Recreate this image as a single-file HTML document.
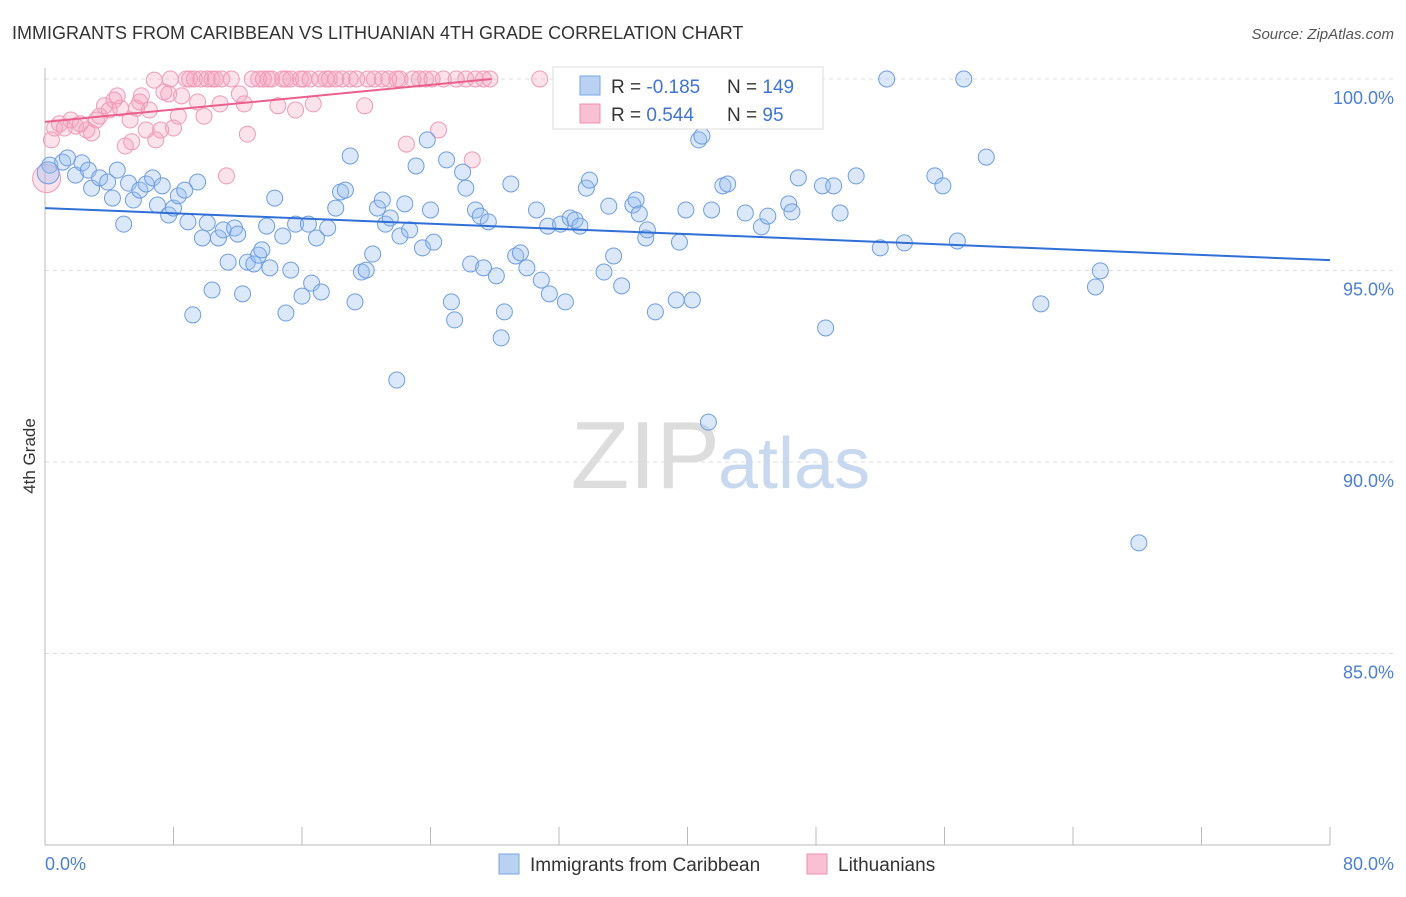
<!DOCTYPE html>
<html><head><meta charset="utf-8"><style>
body{margin:0;background:#fff;font-family:"Liberation Sans",sans-serif}
svg text{font-family:"Liberation Sans",sans-serif}
</style></head><body>
<svg width="1406" height="892" xmlns="http://www.w3.org/2000/svg">
<text x="12" y="39" font-size="18" fill="#333">IMMIGRANTS FROM CARIBBEAN VS LITHUANIAN 4TH GRADE CORRELATION CHART</text>
<text x="1394" y="39" font-size="15" fill="#555" font-style="italic" text-anchor="end">Source: ZipAtlas.com</text>
<g id="grid"></g>
<text x="720" y="488" font-size="96" fill="#ddd" text-anchor="end" font-family="Liberation Serif">ZIP</text>
<text x="718" y="488" font-size="72" fill="#c8d8ee">atlas</text>
<g id="pts"></g>
<g id="lines"></g>
<text x="35" y="456" font-size="17" fill="#333" text-anchor="middle" transform="rotate(-90 35 456)">4th Grade</text>
<text x="45" y="870" font-size="18" fill="#4a7fd6">0.0%</text>
<text x="1394" y="870" font-size="18" fill="#4a7fd6" text-anchor="end">80.0%</text>
<g>
<rect x="553" y="67" width="270" height="62" fill="#fff" stroke="#ddd"/>
<rect x="580" y="76" width="20" height="19" fill="#b9d2f3" stroke="#7aa6e6"/>
<rect x="580" y="104" width="20" height="19" fill="#f8c0d2" stroke="#ee90b0"/>
<text x="611" y="93" font-size="19" fill="#333">R = <tspan fill="#3d74d6">-0.185</tspan></text>
<text x="727" y="93" font-size="19" fill="#333">N = <tspan fill="#3d74d6">149</tspan></text>
<text x="611" y="121" font-size="19" fill="#333">R = <tspan fill="#3d74d6"> 0.544</tspan></text>
<text x="727" y="121" font-size="19" fill="#333">N = <tspan fill="#3d74d6">  95</tspan></text>
</g>
<g>
<rect x="499" y="854" width="20" height="20" fill="#b9d2f3" stroke="#7aa6e6"/>
<text x="530" y="871" font-size="19" fill="#333">Immigrants from Caribbean</text>
<rect x="807" y="854" width="20" height="20" fill="#f8c0d2" stroke="#ee90b0"/>
<text x="838" y="871" font-size="19" fill="#333">Lithuanians</text>
</g>
</svg>
<script>
const yTicks=[100,95,90,85];
const yTickLabels=["100.0%","95.0%","90.0%","85.0%"];
const xTicks=[0,8,16,24,32,40,48,56,64,72,80];
const blueX=[0.3,1.1,1.4,1.9,2.3,2.7,2.9,3.4,3.9,4.2,4.5,4.9,5.2,5.5,5.9,6.3,6.7,7.0,7.3,7.7,8.0,8.3,8.7,8.9,9.2,9.5,9.8,10.1,10.4,10.8,11.1,11.4,11.8,12.0,12.3,12.6,13.0,13.3,13.5,13.8,14.0,14.3,14.8,15.0,15.3,15.6,16.0,16.4,16.6,16.9,17.2,17.6,18.1,18.4,18.7,19.0,19.3,19.7,20.0,20.4,20.7,21.0,21.2,21.5,21.9,22.1,22.4,22.7,23.1,23.5,23.8,24.2,24.0,25.0,25.3,25.5,26.0,26.2,26.5,26.8,27.1,27.3,27.6,28.1,28.6,28.4,29.0,29.3,29.6,30.0,30.6,30.9,31.3,31.4,32.1,32.4,32.7,33.0,33.3,33.7,33.9,34.8,35.1,35.4,35.9,36.6,36.8,37.0,37.4,37.5,38.0,39.3,39.5,39.9,40.3,40.7,40.9,41.3,41.5,42.2,42.5,43.6,44.6,45.0,46.3,46.5,46.9,48.4,48.6,49.1,49.5,50.5,52.0,52.4,53.5,55.4,55.9,56.8,57.2,58.6,62.0,65.4,65.7,68.1,0.2];
const blueY=[97.75,97.83,97.94,97.49,97.81,97.62,97.15,97.42,97.31,96.89,97.62,96.21,97.28,96.84,97.10,97.26,97.42,96.71,97.21,96.45,96.63,96.95,97.10,96.27,93.84,97.31,95.85,96.24,94.49,95.85,96.06,95.22,96.11,95.95,94.39,95.22,95.17,95.40,95.54,96.16,95.07,96.89,95.90,93.89,95.01,96.21,94.33,96.21,94.67,95.85,94.44,96.11,96.63,97.05,97.10,97.99,94.18,94.96,95.01,95.43,96.63,96.84,96.21,96.37,92.14,95.90,96.74,96.06,97.73,95.59,98.41,95.74,96.58,97.89,94.18,93.71,97.57,97.15,95.17,96.58,96.42,95.07,96.27,94.86,93.92,93.24,97.26,95.38,95.46,95.07,96.58,94.75,96.16,94.39,96.21,94.18,96.37,96.32,96.16,97.15,97.36,94.96,96.68,95.38,94.60,96.71,96.84,96.48,95.85,96.06,93.92,94.23,95.74,96.58,94.23,98.41,98.51,91.04,96.58,97.21,97.26,96.50,96.14,96.42,96.74,96.53,97.42,97.21,93.50,97.21,96.50,97.47,95.59,100,95.72,97.47,97.21,95.77,100,97.96,94.13,94.57,94.99,87.89,97.55];
const pinkX=[0.4,0.6,0.9,1.2,1.6,1.9,2.2,2.6,2.9,3.2,3.4,3.7,4.0,4.3,4.5,4.7,5.0,5.3,5.4,5.7,5.9,6.0,6.3,6.5,6.8,6.9,7.2,7.4,7.7,7.8,8.0,8.3,8.5,8.8,9.0,9.3,9.5,9.7,9.9,10.1,10.4,10.6,10.9,11.0,11.3,11.6,12.1,12.4,12.6,12.9,13.3,13.6,13.9,14.1,14.5,14.8,15.0,15.3,15.6,15.9,16.1,16.5,16.7,17.1,17.5,17.7,18.1,18.5,19.0,19.4,19.9,20.1,20.5,21.0,21.4,21.9,22.1,22.5,22.9,23.3,23.7,24.1,24.5,24.8,25.6,26.2,26.6,26.8,27.3,27.7,30.8,32.4,38.0,0.1];
const pinkY=[98.41,98.72,98.83,98.72,98.93,98.77,98.83,98.67,98.59,98.93,99.03,99.30,99.19,99.45,99.56,99.24,98.25,98.93,98.36,99.24,99.40,99.56,98.67,99.19,99.97,98.41,98.67,99.66,99.61,100,98.72,99.03,99.56,100,100,100,99.40,100,99.03,100,100,100,99.35,100,97.47,100,99.61,99.35,98.56,100,100,100,100,100,99.30,100,100,100,99.19,100,100,100,99.35,100,100,100,100,100,100,100,99.30,100,100,100,100,100,100,98.30,100,100,100,100,98.67,100,100,100,97.89,100,100,100,100,100,100,97.4];
const blueTrend=[[0,96.63],[80,95.27]];
const pinkTrend=[[0,98.88],[27.8,100]];
const NS="http://www.w3.org/2000/svg";
const X=v=>45+v*(1285/80);
const Y=v=>79+(100-v)*38.3;
const grid=document.getElementById('grid');
function mk(tag,attrs,parent){const e=document.createElementNS(NS,tag);for(const k in attrs)e.setAttribute(k,attrs[k]);parent.appendChild(e);return e;}
yTicks.forEach((t,i)=>{
  const l=mk('line',{x1:45,x2:1394,y1:Y(t),y2:Y(t),stroke:'#ddd','stroke-dasharray':'4 4'},grid);
  
  
  const tx=mk('text',{x:1394,y:Y(t)+25,'font-size':18,fill:'#4a7fd6','text-anchor':'end'},grid);
  tx.textContent=yTickLabels[i];
  
  
});
const ax=mk('line',{x1:45,x2:1330,y1:845,y2:845,stroke:'#bbb'},grid);


const ay=mk('line',{x1:45,x2:45,y1:68,y2:845,stroke:'#bbb'},grid);


xTicks.forEach(t=>{
  const l=mk('line',{x1:X(t),x2:X(t),y1:827,y2:845,stroke:'#bbb'},grid);
  
  
});
const pts=document.getElementById('pts');
pinkX.forEach((x,i)=>{
  const c=mk('circle',{cx:X(x),cy:Y(pinkY[i]),r:i==pinkX.length-1?14:8,fill:'rgba(244,160,188,0.3)',stroke:'#f09ab8','stroke-width':1},pts);
  
  
});
blueX.forEach((x,i)=>{
  const c=mk('circle',{cx:X(x),cy:Y(blueY[i]),r:i==blueX.length-1?11:8,fill:'rgba(150,188,240,0.35)',stroke:'#6f9de0','stroke-width':1},pts);
  
  
});
const lines=document.getElementById('lines');
const bl=mk('line',{x1:X(blueTrend[0][0]),y1:Y(blueTrend[0][1]),x2:X(blueTrend[1][0]),y2:Y(blueTrend[1][1]),stroke:'#2f6fd6','stroke-width':2},lines);


const pl=mk('line',{x1:X(pinkTrend[0][0]),y1:Y(pinkTrend[0][1]),x2:X(pinkTrend[1][0]),y2:Y(pinkTrend[1][1]),stroke:'#ea5f8c','stroke-width':2},lines);


</script>
</body></html>
